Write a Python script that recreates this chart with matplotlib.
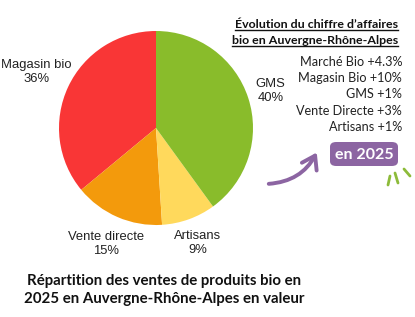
import numpy as np
import matplotlib.pyplot as plt
from matplotlib.patches import FancyBboxPatch, FancyArrowPatch
from matplotlib.lines import Line2D

# pie data
segments = ['Magasin bio', 'Vente directe', 'Artisans', 'GMS']
shares = [36, 15, 9, 40]
colors = ['#F93636', '#F39A0C', '#FFD95C', '#89BC2B']
label_dist = [1.36, 1.30, 1.26, 1.24]

# evolution of turnover
evo_names = ['Marché Bio', 'Magasin Bio', 'GMS', 'Vente Directe', 'Artisans']
evo_values = ['+4.3%', '+10%', '+1%', '+3%', '+1%']

W, H = 415, 317
def px(x, y):
    return x / W, 1 - y / H

fig = plt.figure(figsize=(W / 100, H / 100), dpi=100)
fig.patch.set_facecolor('white')

cx, cy, r = 156, 128, 97
ax = fig.add_axes([(cx - r) / W, 1 - (cy + r) / H, 2 * r / W, 2 * r / H])
wedges, _ = ax.pie(shares, colors=colors, startangle=90, counterclock=True,
                   radius=1, wedgeprops=dict(linewidth=0))
ax.set_xlim(-1, 1)
ax.set_ylim(-1, 1)
ax.set_aspect('equal')
ax.axis('off')

for w, name, val, d in zip(wedges, segments, shares, label_dist):
    ang = np.deg2rad((w.theta1 + w.theta2) / 2)
    ax.text(d * np.cos(ang), d * np.sin(ang), f'{name}\n{val}%',
            ha='center', va='center', fontsize=9.4, family='Liberation Sans',
            color='#222222', linespacing=1.2, clip_on=False)

# header on the right, underlined
hdr = ['Évolution du chiffre d\u2019affaires', 'bio en Auvergne-Rhône-Alpes']
hdr_y = [24, 40]
fig.canvas.draw()
rend = fig.canvas.get_renderer()
for txt, y in zip(hdr, hdr_y):
    t = fig.text(*px(398, y), txt, ha='right', va='center', fontsize=8.9,
                 family='Lato', weight='bold', color='#111111')
    bb = t.get_window_extent(renderer=rend)
    yl = bb.y0 - 0.3
    fig.add_artist(Line2D([bb.x0 / W, bb.x1 / W], [yl / H, yl / H],
                          transform=fig.transFigure, color='#111111', lw=1.0))

for i, (n, v) in enumerate(zip(evo_names, evo_values)):
    fig.text(*px(402, 62 + i * 16.2), f'{n} {v}', ha='right', va='center',
             fontsize=9.1, family='Lato', color='#222222')

# "en 2025" badge
bx0, by0, bx1, by1 = 330, 142, 398, 166
box = FancyBboxPatch(px(bx0, by1), (bx1 - bx0) / W, (by1 - by0) / H,
                     boxstyle='round,pad=0,rounding_size=0.015',
                     transform=fig.transFigure, fc='#8C65A2', ec='none')
fig.add_artist(box)
fig.text(*px((bx0 + bx1) / 2, (by0 + by1) / 2 + 0.5), 'en 2025', ha='center',
         va='center', fontsize=11.5, family='Lato', weight='bold', color='white')

# curved arrow
arr = FancyArrowPatch(px(266, 184), px(318, 150), transform=fig.transFigure,
                      connectionstyle='arc3,rad=0.3',
                      arrowstyle='->,head_length=4.5,head_width=3',
                      color='#8C65A2', lw=2.8, mutation_scale=2,
                      capstyle='round', joinstyle='round')
fig.add_artist(arr)

# green sparkle strokes
for (x0, y0, x1, y1) in [(388, 185, 390, 176), (398, 183, 395, 173), (410, 176, 404, 169)]:
    fig.add_artist(Line2D([x0 / W, x1 / W], [1 - y0 / H, 1 - y1 / H],
                          transform=fig.transFigure, color='#8DBB3A', lw=2,
                          solid_capstyle='round'))

# bottom title
fig.text(*px(164, 290), 'Répartition des ventes de produits bio en\n2025 en Auvergne-Rhône-Alpes en valeur',
         ha='center', va='center', fontsize=10.8, family='Lato', weight='bold',
         color='#111111', linespacing=1.37)

fig.savefig('out.png', dpi=100)
